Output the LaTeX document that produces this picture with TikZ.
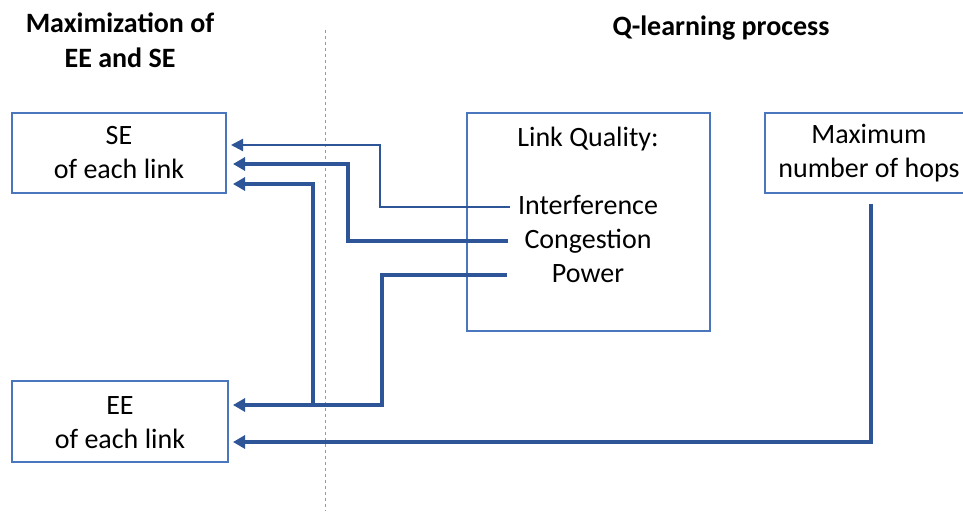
\documentclass[tikz,border=0pt]{standalone}
\usepackage{fontspec}
\setmainfont{Carlito}
\usetikzlibrary{arrows.meta}
\definecolor{boxblue}{HTML}{4A76BD}
\definecolor{arrblue}{HTML}{2E5597}
\definecolor{dashgray}{HTML}{8A9BB5}
\tikzset{
  box/.style={draw=boxblue, line width=1.2pt, inner sep=0pt, align=center},
  lbl/.style={inner sep=0pt, font=\fontsize{28}{34}\selectfont, align=center},
  item/.style={lbl, text height=20pt, text depth=6pt},
  ttl/.style={inner sep=0pt, font=\fontsize{28}{35}\selectfont\bfseries, align=center},
  conn/.style={draw=arrblue, line width=4pt, -{Triangle[length=12pt,width=13pt]}},
  thinconn/.style={draw=arrblue, line width=2.2pt, -{Triangle[length=12pt,width=12pt]}},
}
\begin{document}
\begin{tikzpicture}[x=1pt,y=-1pt]
\clip (0,0) rectangle (963,511);
\fill[white] (0,0) rectangle (963,511);
% titles
\node[ttl] (t1) at (120,40) {Maximization of\\EE and SE};
\node[ttl] (t2) at (721,28) {Q-learning process};
% divider
\draw[dashgray, line width=0.8pt, dash pattern=on 3pt off 3pt] (325,30) -- (325,511);
% boxes
\node[box, minimum width=214pt, minimum height=80pt] (se) at (119,153) {};
\node[lbl] (setxt) at (119,153) {SE\\of each link};
\node[box, minimum width=216pt, minimum height=81pt] (ee) at (120,421.5) {};
\node[lbl] (eetxt) at (120,423) {EE\\of each link};
\node[box, minimum width=243pt, minimum height=218pt] (lq) at (588.5,222) {};
\node[lbl] (lqt) at (588,139) {Link Quality:};
\node[item] (inter) at (588,207) {Interference};
\node[item] (cong) at (588,241) {Congestion};
\node[item] (pow) at (588,275) {Power};
\node[box, minimum width=212pt, minimum height=80pt] (mh) at (871,153) {};
\node[lbl] (mht) at (869,153) {Maximum\\number of hops};
% connector targets
\coordinate (se1) at (231,145);
\coordinate (se2) at (233,164);
\coordinate (se3) at (233,184);
\coordinate (ee1) at (233,405);
\coordinate (ee2) at (233,442);
\coordinate (br) at (313,405);
% connectors
\draw[thinconn] ([xshift=-8pt]inter.west) -- ++(-130,0) |- (se1);
\draw[conn] ([xshift=-16pt]cong.west) -- ++(-160,0) |- (se2);
\draw[conn] ([xshift=-45pt]pow.west) -- ++(-125,0) |- (ee1);
\draw[conn] (br) |- (se3);
\draw[conn] ([yshift=-10pt]mh.south) |- (ee2);
\end{tikzpicture}
\end{document}
